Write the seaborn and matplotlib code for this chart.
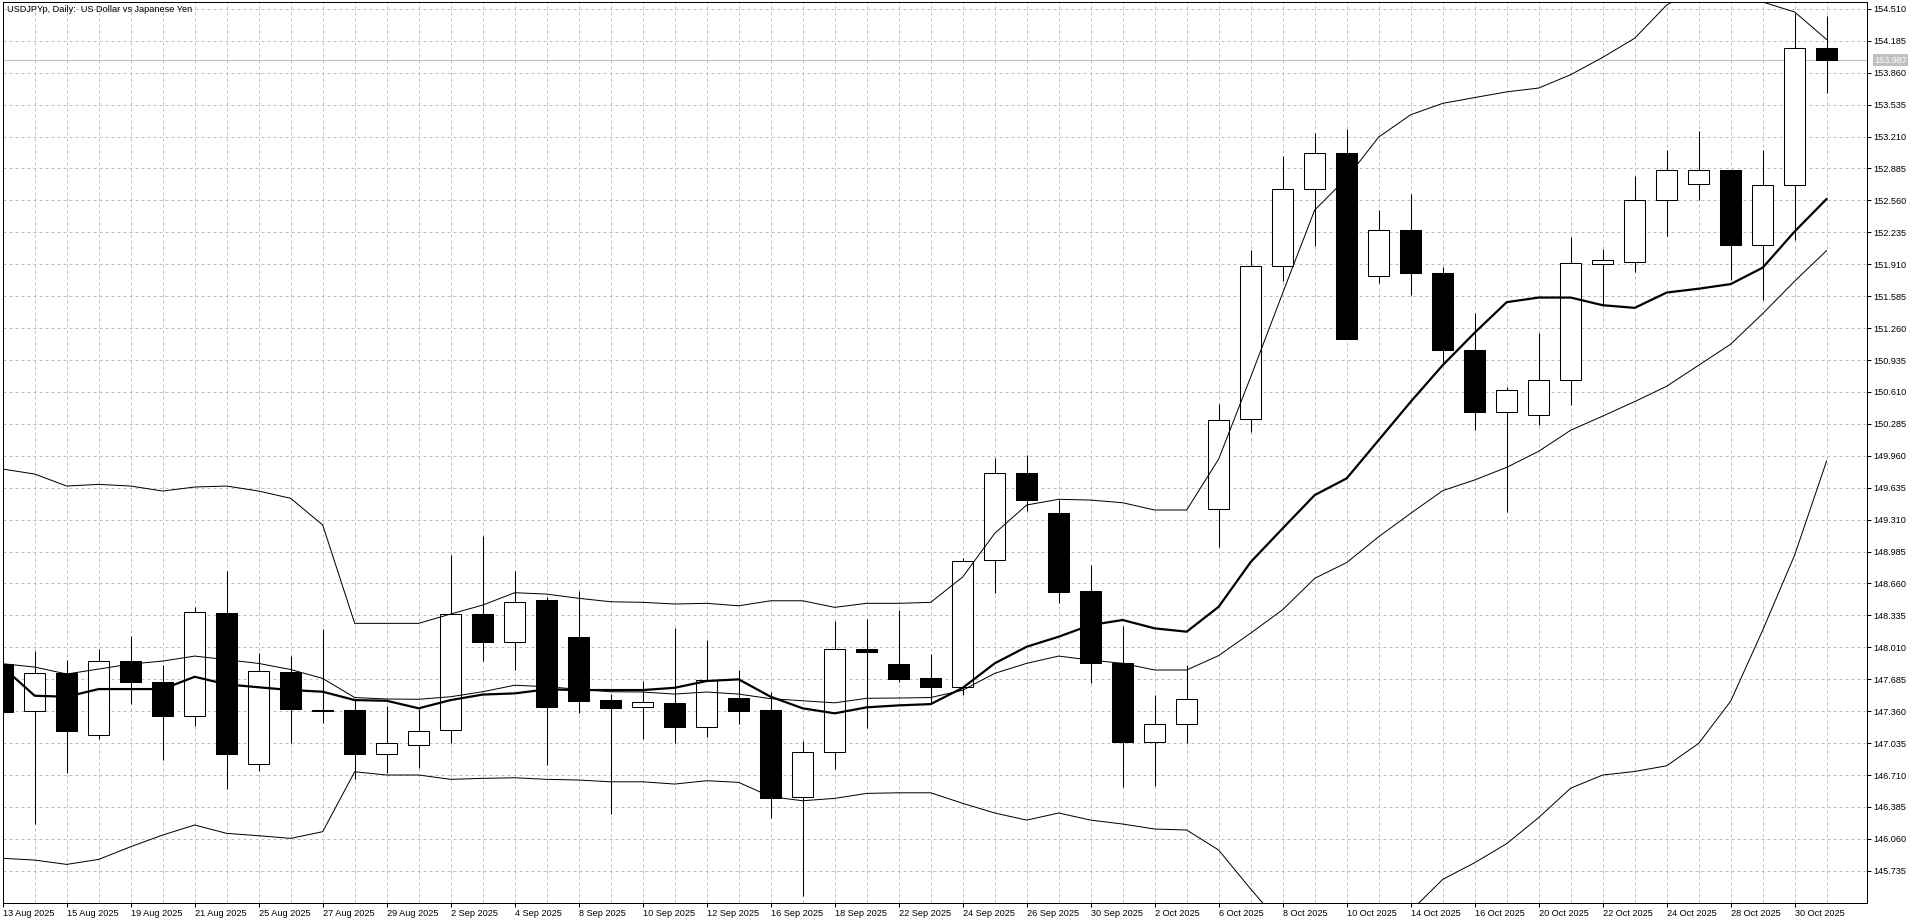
import matplotlib
matplotlib.use("Agg")
import matplotlib.pyplot as plt
import seaborn as sns
import pandas as pd
import numpy as np

# daily bars, 13 Aug - 31 Oct 2025
dates = [
    "2025-08-13", "2025-08-14", "2025-08-15", "2025-08-18", "2025-08-19", "2025-08-20",
    "2025-08-21", "2025-08-22", "2025-08-25", "2025-08-26", "2025-08-27", "2025-08-28",
    "2025-08-29", "2025-09-01", "2025-09-02", "2025-09-03", "2025-09-04", "2025-09-05",
    "2025-09-08", "2025-09-09", "2025-09-10", "2025-09-11", "2025-09-12", "2025-09-15",
    "2025-09-16", "2025-09-17", "2025-09-18", "2025-09-19", "2025-09-22", "2025-09-23",
    "2025-09-24", "2025-09-25", "2025-09-26", "2025-09-29", "2025-09-30", "2025-10-01",
    "2025-10-02", "2025-10-03", "2025-10-06", "2025-10-07", "2025-10-08", "2025-10-09",
    "2025-10-10", "2025-10-13", "2025-10-14", "2025-10-15", "2025-10-16", "2025-10-17",
    "2025-10-20", "2025-10-21", "2025-10-22", "2025-10-23", "2025-10-24", "2025-10-27",
    "2025-10-28", "2025-10-29", "2025-10-30", "2025-10-31",
]

opens = [147.837, 147.358, 147.745, 147.114, 147.868, 147.654, 147.314, 148.356, 146.819, 147.762,
         147.370, 147.369, 146.921, 147.013, 147.165, 148.346, 148.067, 148.489, 148.111, 147.471,
         147.399, 147.440, 147.196, 147.490, 147.372, 146.483, 146.941, 147.990, 147.837, 147.694,
         147.603, 148.896, 149.782, 149.374, 148.583, 147.847, 147.049, 147.226, 149.415, 150.331,
         151.889, 152.673, 153.040, 151.788, 152.257, 151.824, 151.038, 150.404, 150.376, 150.730,
         151.914, 151.937, 152.564, 152.724, 152.868, 152.105, 152.716, 154.110]
highs = [147.950, 147.976, 147.878, 147.993, 148.125, 147.830, 148.424, 148.787, 147.955, 147.921,
         148.196, 147.474, 147.413, 147.380, 148.950, 149.143, 148.787, 148.525, 148.583, 147.531,
         147.667, 148.210, 148.084, 147.779, 147.552, 147.056, 148.278, 148.298, 148.390, 147.942,
         148.916, 149.934, 149.968, 149.510, 148.848, 148.227, 147.524, 147.830, 150.487, 152.055,
         153.012, 153.250, 153.287, 152.462, 152.622, 151.887, 151.416, 150.660, 151.213, 152.186,
         152.062, 152.810, 153.074, 153.269, 152.868, 153.070, 154.464, 154.433]
lows = [147.250, 146.210, 146.733, 147.080, 147.433, 146.863, 147.209, 146.567, 146.750, 147.038,
        147.242, 146.666, 146.733, 146.784, 147.033, 147.874, 147.779, 146.812, 147.338, 146.310,
        147.080, 147.038, 147.094, 147.229, 146.275, 145.481, 146.768, 147.192, 147.654, 147.440,
        147.524, 148.560, 149.401, 148.464, 147.650, 146.585, 146.601, 147.039, 149.034, 150.205,
        151.740, 152.099, 151.146, 151.722, 151.602, 150.901, 150.220, 149.384, 150.271, 150.473,
        151.486, 151.828, 152.199, 152.568, 151.747, 151.544, 152.155, 153.654]
closes = [147.354, 147.745, 147.161, 147.868, 147.654, 147.314, 148.366, 146.921, 147.766, 147.379,
          147.360, 146.921, 147.033, 147.161, 148.346, 148.067, 148.474, 147.405, 147.466, 147.395,
          147.450, 147.196, 147.677, 147.365, 146.479, 146.947, 147.990, 147.959, 147.690, 147.603,
          148.889, 149.782, 149.510, 148.576, 147.847, 147.049, 147.226, 147.481, 150.324, 151.892,
          152.673, 153.040, 151.152, 152.256, 151.817, 151.038, 150.407, 150.629, 150.730, 151.922,
          151.953, 152.564, 152.868, 152.868, 152.105, 152.716, 154.110, 153.987]

# indicator lines
ma_thick = [147.809, 147.517, 147.507, 147.585, 147.585, 147.585, 147.710, 147.633, 147.603, 147.575,
            147.558, 147.473, 147.466, 147.389, 147.473, 147.529, 147.541, 147.582, 147.575, 147.575,
            147.575, 147.598, 147.667, 147.684, 147.507, 147.389, 147.338, 147.399, 147.419, 147.432,
            147.597, 147.847, 148.016, 148.118, 148.237, 148.288, 148.203, 148.169, 148.423, 148.878,
            149.221, 149.560, 149.730, 150.120, 150.510, 150.882, 151.213, 151.524, 151.571, 151.571,
            151.493, 151.466, 151.622, 151.661, 151.708, 151.875, 152.244, 152.575]
bb_mid = [147.843, 147.809, 147.738, 147.789, 147.840, 147.870, 147.921, 147.884, 147.846, 147.784,
          147.693, 147.499, 147.484, 147.481, 147.507, 147.558, 147.624, 147.609, 147.583, 147.558,
          147.555, 147.534, 147.555, 147.534, 147.487, 147.466, 147.445, 147.491, 147.494, 147.499,
          147.573, 147.745, 147.847, 147.921, 147.880, 147.847, 147.779, 147.779, 147.926, 148.155,
          148.393, 148.712, 148.873, 149.136, 149.374, 149.605, 149.714, 149.842, 150.006, 150.220,
          150.364, 150.512, 150.668, 150.882, 151.096, 151.407, 151.738, 152.050]
bb_upper = [149.825, 149.774, 149.652, 149.669, 149.652, 149.601, 149.642, 149.652, 149.601, 149.527,
            149.255, 148.254, 148.254, 148.254, 148.349, 148.440, 148.566, 148.552, 148.509, 148.474,
            148.468, 148.451, 148.458, 148.433, 148.484, 148.484, 148.417, 148.458, 148.458, 148.468,
            148.726, 149.170, 149.459, 149.517, 149.509, 149.482, 149.408, 149.408, 149.927, 150.762,
            151.617, 152.462, 152.788, 153.205, 153.432, 153.548, 153.607, 153.665, 153.704, 153.840,
            154.016, 154.211, 154.549, 154.732, 154.732, 154.580, 154.478, 154.198]
bb_lower = [145.862, 145.844, 145.800, 145.851, 145.980, 146.099, 146.201, 146.116, 146.092, 146.065,
            146.133, 146.743, 146.710, 146.710, 146.666, 146.676, 146.682, 146.666, 146.659, 146.641,
            146.641, 146.618, 146.652, 146.635, 146.489, 146.448, 146.472, 146.523, 146.529, 146.529,
            146.422, 146.323, 146.251, 146.323, 146.251, 146.211, 146.160, 146.150, 145.946, 145.549,
            145.172, 144.959, 144.969, 145.071, 145.325, 145.647, 145.817, 146.011, 146.277, 146.576,
            146.710, 146.746, 146.804, 147.032, 147.462, 148.184, 148.950, 149.909]

price_ticks = [145.735, 146.060, 146.385, 146.710, 147.035, 147.360, 147.685, 148.010, 148.335,
               148.660, 148.985, 149.310, 149.635, 149.960, 150.285, 150.610, 150.935, 151.260,
               151.585, 151.910, 152.235, 152.560, 152.885, 153.210, 153.535, 153.860, 154.185,
               154.510]
last_price = 153.987
title = "USDJPYp, Daily:  US Dollar vs Japanese Yen"

sns.set_style("white")
plt.rcParams['font.family'] = ['Liberation Sans', 'DejaVu Sans']

df = pd.DataFrame({
    'date': pd.to_datetime(dates),
    'open': opens, 'high': highs, 'low': lows, 'close': closes,
    'ma': ma_thick, 'mid': bb_mid, 'upper': bb_upper, 'lower': bb_lower,
})
df['idx'] = np.arange(len(df))
df['bull'] = df['close'] > df['open']

W, H = 1920, 923
fig = plt.figure(figsize=(W / 100, H / 100), dpi=100)
ax = fig.add_axes([2.5 / W, 20 / H, (1867 - 2.5) / W, (903 - 1.7) / H])

grid_kw = dict(color='#c0c0c0', linestyle=(0, (3, 3)), linewidth=0.72)
ax.set_xticks(df['idx'][::2])
ax.set_xticks(df['idx'], minor=True)
ax.grid(True, which='both', axis='x', **grid_kw)
ax.set_yticks(price_ticks)
ax.grid(True, which='major', axis='y', **grid_kw)
ax.set_axisbelow(True)

# current price line
ax.axhline(last_price, color='#c0c0c0', linewidth=0.75, zorder=1.5)

# candles
ax.vlines(df['idx'], df['low'], df['high'], color='black', linewidth=0.75, zorder=2)
ax.bar(df['idx'], (df['close'] - df['open']).abs(),
       bottom=df[['open', 'close']].min(axis=1), width=0.656,
       color=np.where(df['bull'], 'white', 'black'), edgecolor='black',
       linewidth=0.75, zorder=3)

# bollinger bands + thick moving average
for col, lw in [('upper', 0.72), ('mid', 0.72), ('lower', 0.72), ('ma', 1.6)]:
    sns.lineplot(data=df, x='idx', y=col, color='black', linewidth=lw,
                 ax=ax, legend=False, zorder=4)

ax.set_xlim(-0.006, 58.26)
ax.set_ylim(145.407, 154.583)
ax.set_xlabel('')
ax.set_ylabel('')

fs = 6.6
ax.set_xticklabels([f"{d.day} {d:%b %Y}" for d in df['date'][::2]])
for lbl in ax.get_xticklabels():
    lbl.set_horizontalalignment('left')
ax.set_yticklabels([f"{v:.3f}" for v in price_ticks])
ax.tick_params(axis='x', which='major', bottom=True, length=3, width=0.72,
               pad=1, labelsize=fs, colors='black')
ax.tick_params(axis='x', which='minor', bottom=False, length=0)
ax.tick_params(axis='y', left=False, labelleft=False, right=True, labelright=True,
               length=3, width=0.72, pad=1.5, labelsize=fs, colors='black')

for sp in ax.spines.values():
    sp.set_visible(True)
    sp.set_color('black')
    sp.set_linewidth(0.72)

fig.text(7 / W, 1 - 10 / H, title, ha='left', va='center', fontsize=fs, color='black')

ax.annotate(f"{last_price:.3f}", xy=(1, last_price), xycoords=('axes fraction', 'data'),
            xytext=(5.2, 0), textcoords='offset points', ha='left', va='center',
            fontsize=fs, color='white',
            bbox=dict(boxstyle='square,pad=0.15', fc='#c0c0c0', ec='none'))

fig.savefig('out.png', dpi=100)
